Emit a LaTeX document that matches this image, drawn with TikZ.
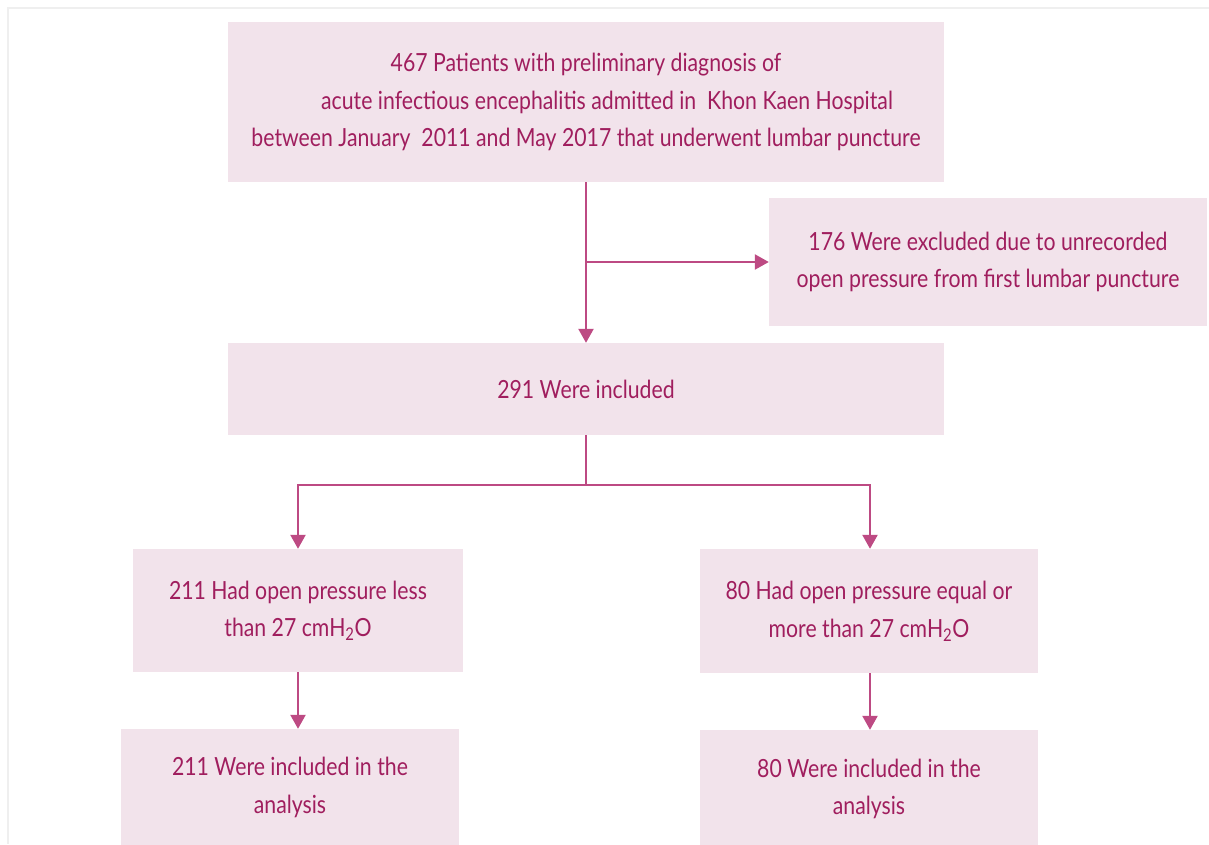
\documentclass[tikz,border=0pt]{standalone}
\usepackage{fontspec}
\setmainfont{Lato}[FakeStretch=0.85]
\usetikzlibrary{arrows.meta}
\definecolor{boxfill}{HTML}{F2E3EB}
\definecolor{txt}{HTML}{A01E5E}
\definecolor{ln}{HTML}{BD4A83}
\definecolor{frame}{HTML}{EFEFEF}
\tikzset{
  box/.style={fill=boxfill, draw=none, inner sep=0pt, text=txt, align=center,
    font=\fontsize{25}{37.5}\selectfont},
  conn/.style={draw=ln, line width=2.4pt, -{Triangle[length=14pt,width=15pt]}},
  plain/.style={draw=ln, line width=2.4pt},
}
\begin{document}
\begin{tikzpicture}[x=1pt,y=-1pt]
\useasboundingbox (0,0) rectangle (1209,844);
\draw[frame, line width=2pt] (7.5,844) -- (7.5,7.5) -- (1209,7.5);
% boxes
\node[box, minimum width=716, minimum height=160] (a) at (586,102)
  {467 Patients with preliminary diagnosis of\\
   \hspace*{42pt}acute infectious encephalitis admitted in\ \ Khon Kaen Hospital\\
   between January\ \ 2011 and May 2017 that underwent lumbar puncture};
\node[box, minimum width=438, minimum height=128] (ex) at (988,262)
  {176 Were excluded due to unrecorded\\open pressure from first lumbar puncture};
\node[box, minimum width=716, minimum height=92] (inc) at (586,389)
  {291 Were included};
\node[box, minimum width=330, minimum height=123] (lo) at (298,610.5)
  {\raisebox{-2pt}{\begin{tabular}{@{}c@{}}211 Had open pressure less\\than 27 cmH\textsubscript{2}O\end{tabular}}};
\node[box, minimum width=338, minimum height=124] (hi) at (869,611)
  {\raisebox{-2pt}{\begin{tabular}{@{}c@{}}80 Had open pressure equal or\\more than 27 cmH\textsubscript{2}O\end{tabular}}};
\node[box, minimum width=338, minimum height=117] (la) at (290,787.5)
  {211 Were included in the\\analysis};
\node[box, minimum width=338, minimum height=118] (ha) at (869,789)
  {80 Were included in the\\analysis};
% connectors
\coordinate (j1) at (586,262);
\coordinate (j2) at (586,485);
\coordinate (jl) at (298,485);
\coordinate (jr) at (870,485);
\draw[conn] (a.south -| j1) -- (inc.north -| j1);
\draw[conn] (j1) -- (ex.west |- j1);
\draw[plain] (inc.south -| j2) -- (j2);
\draw[plain, line cap=rect] (jl) -- (jr);
\draw[conn] (jl) -- (lo.north -| jl);
\draw[conn] (jr) -- (hi.north -| jr);
\draw[conn] (lo.south -| jl) -- (la.north -| jl);
\draw[conn] (hi.south -| jr) -- (ha.north -| jr);
\end{tikzpicture}
\end{document}
